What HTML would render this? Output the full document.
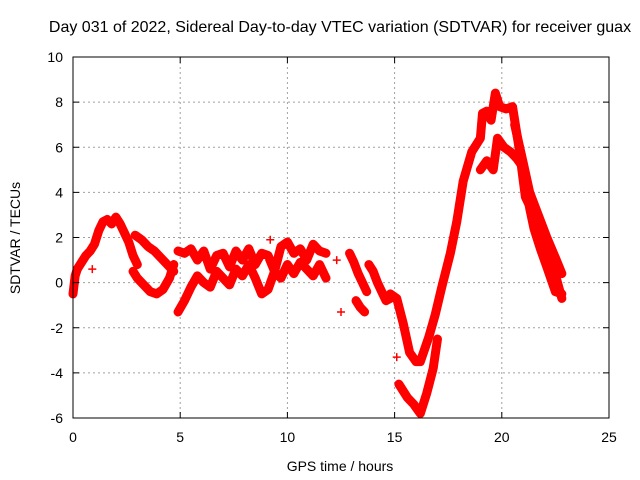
<!DOCTYPE html>
<html><head><meta charset="utf-8"><style>
body{margin:0;background:#fff}
svg{display:block;font-family:"Liberation Sans",sans-serif}
</style></head><body>
<svg id="chart" width="640" height="480" viewBox="0 0 640 480">
<rect width="640" height="480" fill="#fff"/>
<text x="340" y="32" font-size="16" text-anchor="middle">Day 031 of 2022, Sidereal Day-to-day VTEC variation (SDTVAR) for receiver guax</text>
<text x="340" y="471" font-size="14" text-anchor="middle">GPS time / hours</text>
<text transform="translate(20,238) rotate(-90)" font-size="14" text-anchor="middle">SDTVAR / TECUs</text>
<g id="grid"></g><g id="marks"></g><g id="axes"></g>
</svg>
<script>
const xTicks=[0,5,10,15,20,25];
const yTicks=[-6,-4,-2,0,2,4,6,8,10];
const trackA_t=[0,0.1,0.2,0.4,0.6,0.8,1.0,1.2,1.4,1.6,1.8,2.0,2.2,2.4,2.6,2.8,3.0];
const trackA_v=[-0.5,0.3,0.6,0.9,1.2,1.4,1.7,2.3,2.7,2.8,2.6,2.9,2.6,2.2,1.8,1.2,0.8];
const loopLow_t=[2.8,3.0,3.3,3.6,3.9,4.2,4.5,4.7];
const loopLow_v=[0.5,0.2,-0.1,-0.4,-0.5,-0.3,0.2,0.8];
const loopUp_t=[2.9,3.2,3.5,3.8,4.1,4.4,4.7];
const loopUp_v=[2.1,1.9,1.6,1.4,1.1,0.8,0.5];
const midUp_t=[4.9,5.2,5.5,5.8,6.1,6.4,6.7,7.0,7.3,7.6,7.9,8.2,8.5,8.8,9.1,9.4,9.7,10.0,10.3,10.6,10.9,11.2,11.5,11.8];
const midUp_v=[1.4,1.3,1.5,1.0,1.4,0.6,1.2,1.3,0.7,1.4,1.0,1.5,0.8,1.3,1.2,0.5,1.6,1.8,1.3,1.5,1.0,1.7,1.4,1.3];
const midLow_t=[4.9,5.2,5.5,5.8,6.1,6.4,6.7,7.0,7.3,7.6,7.9,8.2,8.5,8.8,9.1,9.4,9.7,10.0,10.3,10.6,10.9,11.2,11.5,11.8];
const midLow_v=[-1.3,-0.8,-0.2,0.3,0.0,-0.2,0.5,0.2,-0.1,0.6,0.3,0.8,0.2,-0.5,-0.3,0.5,0.2,0.8,0.4,0.9,0.6,0.3,0.8,0.2];
const lateA_t=[12.9,13.1,13.3,13.5,13.7];
const lateA_v=[1.3,0.9,0.4,0.0,-0.4];
const lateB_t=[13.2,13.4,13.6];
const lateB_v=[-0.8,-1.1,-1.3];
const lateC_t=[13.8,14.0,14.2,14.4,14.6,14.8];
const lateC_v=[0.8,0.5,0.0,-0.4,-0.8,-0.7];
const dip_t=[14.8,15.1,15.4,15.7,16.0,16.2,16.6,16.9,17.2,17.6,17.9,18.2,18.6,19.0,19.1,19.3,19.5,19.7,19.9,20.2,20.5,20.8,21.1,21.5,21.8,22.1,22.4,22.8];
const dip_v=[-0.5,-0.7,-1.8,-3.1,-3.5,-3.5,-2.4,-1.4,-0.2,1.3,2.7,4.5,5.8,6.4,7.5,7.6,7.2,8.4,7.8,7.7,7.8,6.0,3.8,3.0,2.3,1.5,0.7,-0.7];
const dipLow_t=[15.2,15.4,15.6,15.9,16.2,16.5,16.8,17.0];
const dipLow_v=[-4.5,-4.8,-5.1,-5.4,-5.8,-4.9,-3.8,-2.5];
const peakIn_t=[19.0,19.3,19.6,19.8,20.1,20.4,20.7,21.0,21.3,21.5,21.8,22.1,22.5,22.8];
const peakIn_v=[5.0,5.4,5.0,6.4,6.0,5.8,5.5,5.1,3.3,2.4,1.5,0.7,-0.4,-0.5];
const outerDesc_t=[20.6,21.0,21.3,21.7,22.1,22.5,22.8];
const outerDesc_v=[7.0,5.3,4.0,3.0,2.0,1.1,0.4];
const isoTimes=[0.9,12.3,12.5,15.1,9.2];
const isoVals=[0.6,1.0,-1.3,-3.3,1.9];
const tracks=[[trackA_t,trackA_v],[loopLow_t,loopLow_v],[loopUp_t,loopUp_v],[midUp_t,midUp_v],[midLow_t,midLow_v],[lateA_t,lateA_v],[lateB_t,lateB_v],[lateC_t,lateC_v],[dip_t,dip_v],[dipLow_t,dipLow_v],[peakIn_t,peakIn_v],[outerDesc_t,outerDesc_v]];
const X0=73,X1=609,Y0=418,Y1=57;
function sx(t){return X0+(t-0)/(25-0)*(X1-X0);}
function sy(v){return Y0-(v+6)/16*(Y0-Y1);}
const NS='http://www.w3.org/2000/svg';
function mk(tag,at,parent){const e=document.createElementNS(NS,tag);for(const k in at)e.setAttribute(k,at[k]);parent.appendChild(e);return e;}
const grid=document.getElementById('grid'),marks=document.getElementById('marks'),axes=document.getElementById('axes');
xTicks.forEach(t=>{
 if(t>0&&t<25){const g=mk('line',{x1:sx(t),x2:sx(t),y1:Y1,y2:Y0,stroke:'#a0a0a0','stroke-dasharray':'2,3'},grid);
 
 }
 const tl=mk('text',{x:sx(t),y:Y0+24,'font-size':14,'text-anchor':'middle'},axes);tl.textContent=t;
 
 
 mk('line',{x1:sx(t),x2:sx(t),y1:Y0,y2:Y0-6,stroke:'#000'},axes);
 mk('line',{x1:sx(t),x2:sx(t),y1:Y1,y2:Y1+6,stroke:'#000'},axes);
});
yTicks.forEach(v=>{
 if(v>-6&&v<10){const g=mk('line',{x1:X0,x2:X1,y1:sy(v),y2:sy(v),stroke:'#a0a0a0','stroke-dasharray':'2,3'},grid);
 
 }
 const tl=mk('text',{x:X0-10,y:sy(v)+5,'font-size':14,'text-anchor':'end'},axes);tl.textContent=v;
 
 
 mk('line',{x1:X0,x2:X0+6,y1:sy(v),y2:sy(v),stroke:'#000'},axes);
 mk('line',{x1:X1,x2:X1-6,y1:sy(v),y2:sy(v),stroke:'#000'},axes);
});
const frame=mk('rect',{x:X0,y:Y1,width:X1-X0,height:Y0-Y1,fill:'none',stroke:'#000'},axes);


function plus(t,v){
 const x=sx(t),y=sy(v);
 const p=mk('path',{d:`M${x-4},${y}H${x+4}M${x},${y-4}V${y+4}`,stroke:'#f00','stroke-width':1.5},marks);
 
 
}
tracks.forEach(([ts,vs])=>{
 const pl=mk('polyline',{points:ts.map((t,i)=>sx(t)+','+sy(vs[i])).join(' '),fill:'none',stroke:'#f00','stroke-width':9,'stroke-linejoin':'round','stroke-linecap':'round'},marks);
 
 
 ts.forEach((t,i)=>plus(t,vs[i]));
});
isoTimes.forEach((t,i)=>plus(t,isoVals[i]));
</script>
</body></html>
